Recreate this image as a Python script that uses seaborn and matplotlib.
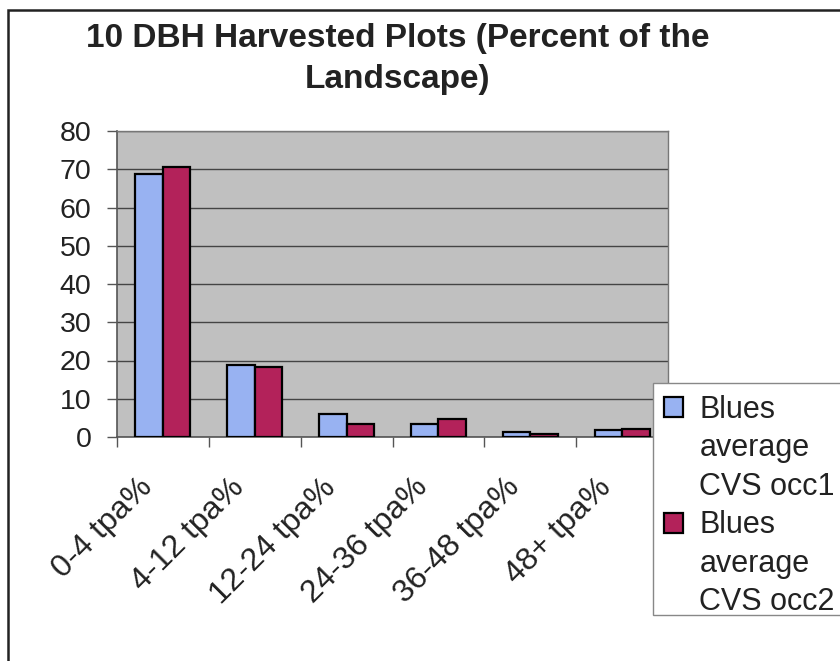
import matplotlib
matplotlib.use("Agg")
import matplotlib.pyplot as plt
import matplotlib.transforms as mtransforms
import seaborn as sns
import pandas as pd
from matplotlib.patches import Patch, Rectangle

categories = ["0-4 tpa%", "4-12 tpa%", "12-24 tpa%", "24-36 tpa%", "36-48 tpa%", "48+ tpa%"]
series_names = ["Blues\naverage\nCVS occ1", "Blues\naverage\nCVS occ2"]
occ1 = [68.7, 18.8, 6.1, 3.5, 1.4, 1.9]
occ2 = [70.7, 18.3, 3.5, 4.8, 0.8, 2.0]
y_ticks = [0, 10, 20, 30, 40, 50, 60, 70, 80]
title = "10 DBH Harvested Plots (Percent of the\nLandscape)"

colors = ["#98b2f2", "#b3225a"]

df = pd.DataFrame({
    "cat": categories * 2,
    "val": occ1 + occ2,
    "series": [series_names[0]] * len(categories) + [series_names[1]] * len(categories),
})

sns.set_theme(style="white")
plt.rcParams["font.family"] = ["Liberation Sans", "DejaVu Sans"]

fig = plt.figure(figsize=(8.4, 6.61), dpi=100)
ax = fig.add_axes([117 / 840, 1 - 437 / 661, (668 - 117) / 840, (437 - 131) / 661])

sns.barplot(data=df, x="cat", y="val", hue="series", palette=colors, saturation=1,
            edgecolor="black", linewidth=1.6, width=0.6, ax=ax, zorder=3)

ax.set_facecolor("#c0c0c0")
ax.set_ylim(0, 80)
ax.set_xlim(-0.5, len(categories) - 0.5)
ax.set_yticks(y_ticks)
ax.set_yticklabels([str(v) for v in y_ticks], fontsize=20.5, color="#222222")
ax.yaxis.grid(True, color="#444444", linewidth=1.0, zorder=0)
ax.set_axisbelow(True)
ax.set_xlabel("")
ax.set_ylabel("")

ax.set_xticks(range(len(categories)))
ax.set_xticklabels(categories, rotation=45, ha="right", rotation_mode="anchor",
                   fontsize=23, color="#222222")
ax.tick_params(axis="x", which="major", length=0, pad=14)
ax.set_xticks([i - 0.5 for i in range(len(categories) + 1)], minor=True)
ax.tick_params(axis="x", which="minor", length=7.5, width=1.0, color="#555555", direction="out", bottom=True)
ax.tick_params(axis="y", length=7.5, width=1.0, color="#555555", direction="out", left=True, pad=11)

offset = mtransforms.ScaledTranslation(-0.26, -0.16, fig.dpi_scale_trans)
for lbl in ax.get_xticklabels():
    lbl.set_transform(lbl.get_transform() + offset)

for side in ["top", "right"]:
    ax.spines[side].set_color("#777777")
    ax.spines[side].set_linewidth(1.0)
for side in ["left", "bottom"]:
    ax.spines[side].set_color("#555555")
    ax.spines[side].set_linewidth(1.2)

if ax.legend_ is not None:
    ax.legend_.remove()

blank = Patch(facecolor="none", edgecolor="none")
handles = [Patch(facecolor=colors[0], edgecolor="black", linewidth=1.6), blank, blank,
           Patch(facecolor=colors[1], edgecolor="black", linewidth=1.6), blank, blank]
labels = ["Blues", "average", "CVS occ1", "Blues", "average", "CVS occ2"]

# legend frame (drawn separately so the padding matches the reference)
fig.patches.append(Rectangle((653 / 840, 1 - 615 / 661), 0.5, (615 - 383) / 661,
                             transform=fig.transFigure, facecolor="white",
                             edgecolor="#888888", linewidth=1.0, zorder=5))
leg = fig.legend(handles, labels, loc="upper left", bbox_to_anchor=(653 / 840, 1 - 384 / 661),
                 fontsize=22, frameon=False,
                 handlelength=0.62, handleheight=0.62, handletextpad=0.55,
                 labelspacing=0.28, borderpad=0.35, borderaxespad=0)
leg.set_zorder(6)
for t in leg.get_texts():
    t.set_color("#222222")

fig.text(0.473, 1 - 59 / 661, title, ha="center", va="center", fontsize=24,
         fontweight="bold", color="#222222", linespacing=1.45)

fig.patches.append(Rectangle((8 / 840, -0.1), 1.2, 1 - 10 / 661 + 0.1, transform=fig.transFigure,
                             fill=False, edgecolor="#222222", linewidth=1.8, zorder=0))

fig.savefig("out.png", dpi=100, facecolor="white")
